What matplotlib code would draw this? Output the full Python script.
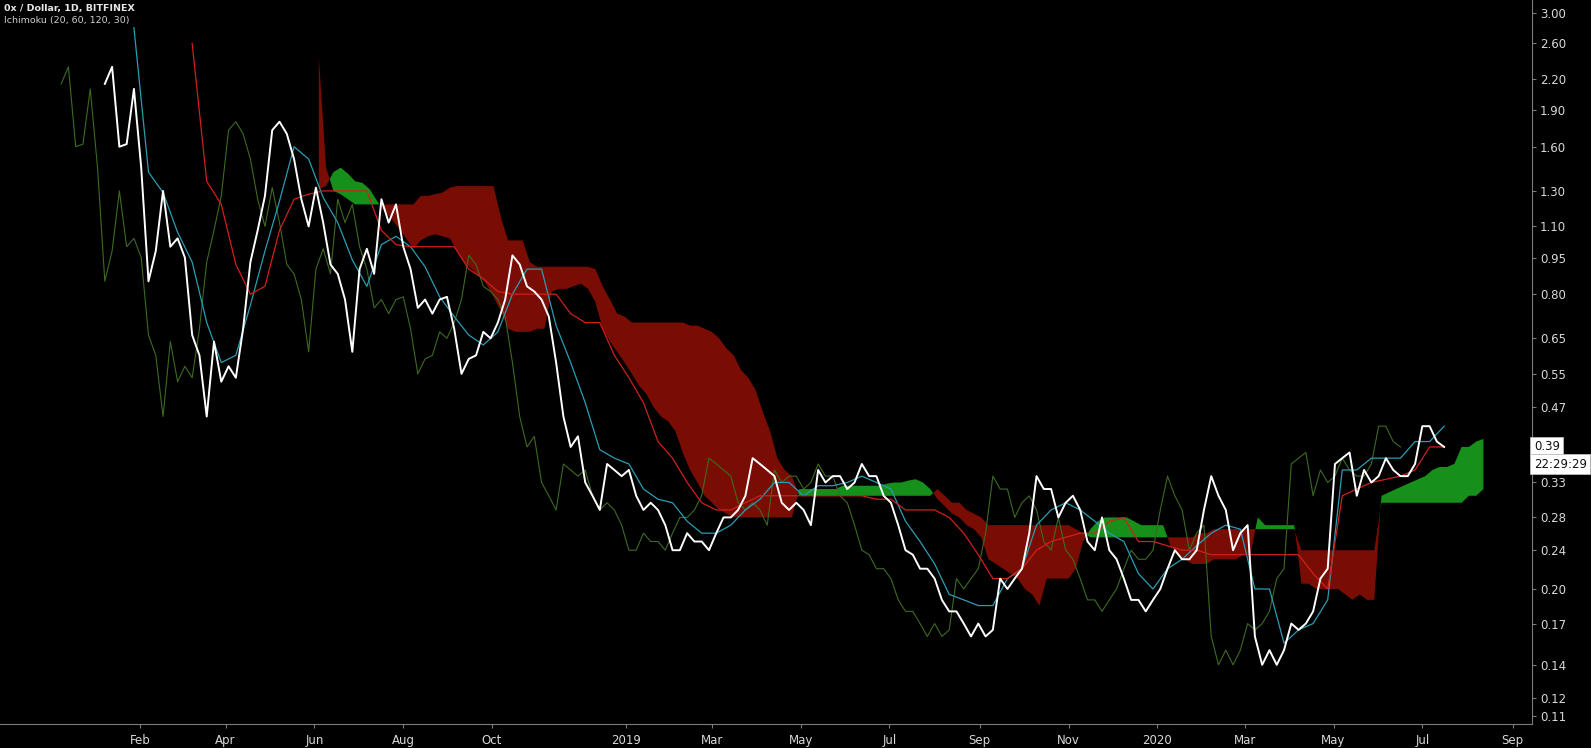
import numpy as np
import pandas as pd
import matplotlib
matplotlib.use("Agg")
import matplotlib.pyplot as plt
import matplotlib.dates as mdates
from matplotlib.ticker import FixedLocator, FixedFormatter, NullLocator
from matplotlib.transforms import blended_transform_factory

# daily close, read every 5 days
close_start = "2018-01-08"
close = [2.15, 2.33, 1.60, 1.62, 2.10, 1.45, 0.85, 0.98, 1.30, 1.00,
         1.04, 0.95, 0.66, 0.60, 0.45, 0.64, 0.53, 0.57, 0.54, 0.68,
         0.93, 1.08, 1.27, 1.73, 1.80, 1.70, 1.51, 1.25, 1.10, 1.32,
         1.12, 0.92, 0.88, 0.78, 0.61, 0.90, 0.99, 0.88, 1.25, 1.12,
         1.22, 1.00, 0.90, 0.75, 0.78, 0.73, 0.78, 0.79, 0.68, 0.55,
         0.59, 0.60, 0.67, 0.65, 0.70, 0.78, 0.96, 0.92, 0.83, 0.81,
         0.78, 0.72, 0.58, 0.45, 0.39, 0.41, 0.33, 0.31, 0.29, 0.36,
         0.35, 0.34, 0.35, 0.31, 0.29, 0.30, 0.29, 0.27, 0.24, 0.24,
         0.26, 0.25, 0.25, 0.24, 0.26, 0.28, 0.28, 0.29, 0.31, 0.37,
         0.36, 0.35, 0.34, 0.30, 0.29, 0.30, 0.29, 0.27, 0.35, 0.33,
         0.34, 0.34, 0.32, 0.33, 0.36, 0.34, 0.34, 0.31, 0.30, 0.27,
         0.24, 0.235, 0.22, 0.22, 0.21, 0.19, 0.18, 0.18, 0.17, 0.16,
         0.17, 0.16, 0.165, 0.21, 0.20, 0.21, 0.22, 0.26, 0.34, 0.32,
         0.32, 0.28, 0.30, 0.31, 0.29, 0.25, 0.24, 0.28, 0.24, 0.23,
         0.21, 0.19, 0.19, 0.18, 0.19, 0.20, 0.22, 0.24, 0.23, 0.23,
         0.24, 0.29, 0.34, 0.31, 0.29, 0.24, 0.26, 0.27, 0.16, 0.14,
         0.15, 0.14, 0.15, 0.17, 0.165, 0.17, 0.18, 0.21, 0.22, 0.36,
         0.37, 0.38, 0.31, 0.35, 0.33, 0.34, 0.37, 0.35, 0.34, 0.34,
         0.36, 0.43, 0.43, 0.40, 0.39]
chikou_shift = 30  # days

# conversion / base lines, read every 10 days
line_start = "2018-01-28"
tenkan = [2.80, 1.42, 1.29, 1.07, 0.93, 0.70, 0.58, 0.60, 0.76, 0.98,
          1.24, 1.60, 1.51, 1.26, 1.12, 0.94, 0.83, 1.01, 1.05, 1.00,
          0.91, 0.79, 0.72, 0.66, 0.63, 0.67, 0.80, 0.90, 0.90, 0.69,
          0.58, 0.48, 0.385, 0.37, 0.36, 0.32, 0.305, 0.30, 0.275, 0.26,
          0.26, 0.27, 0.29, 0.305, 0.33, 0.33, 0.31, 0.325, 0.325, 0.33,
          0.34, 0.33, 0.32, 0.275, 0.25, 0.225, 0.195, 0.19, 0.185, 0.185,
          0.21, 0.22, 0.27, 0.29, 0.30, 0.29, 0.275, 0.26, 0.25, 0.215,
          0.20, 0.22, 0.23, 0.245, 0.26, 0.27, 0.265, 0.20, 0.20, 0.155,
          0.165, 0.17, 0.19, 0.35, 0.35, 0.37, 0.37, 0.37, 0.40, 0.40,
          0.43]
kijun = [np.nan, np.nan, np.nan, np.nan, 2.60, 1.36, 1.22, 0.92, 0.80, 0.83,
         1.08, 1.25, 1.28, 1.30, 1.30, 1.30, 1.30, 1.08, 1.01, 1.00,
         1.00, 1.00, 1.00, 0.90, 0.86, 0.81, 0.80, 0.80, 0.80, 0.80,
         0.73, 0.70, 0.70, 0.60, 0.54, 0.48, 0.40, 0.37, 0.33, 0.30,
         0.29, 0.29, 0.30, 0.31, 0.31, 0.31, 0.31, 0.31, 0.31, 0.31,
         0.31, 0.305, 0.305, 0.29, 0.29, 0.29, 0.28, 0.26, 0.235, 0.21,
         0.21, 0.22, 0.24, 0.25, 0.255, 0.26, 0.26, 0.275, 0.28, 0.25,
         0.25, 0.245, 0.24, 0.24, 0.235, 0.235, 0.235, 0.235, 0.235, 0.235,
         0.235, 0.215, 0.20, 0.31, 0.32, 0.33, 0.335, 0.34, 0.35, 0.39,
         0.39]

# leading spans (already displaced), read every 5 days
cloud_start = "2018-06-04"
lead_a = [1.31, 1.33, 1.42, 1.45, 1.41, 1.36, 1.35, 1.31, 1.24, 1.18,
          1.14, 1.09, 1.04, 0.99, 1.03, 1.05, 1.06, 1.05, 1.04, 0.98,
          0.93, 0.90, 0.87, 0.84, 0.79, 0.74, 0.68, 0.67, 0.67, 0.67,
          0.68, 0.68, 0.81, 0.82, 0.82, 0.83, 0.84, 0.82, 0.77, 0.68,
          0.64, 0.61, 0.58, 0.55, 0.52, 0.50, 0.47, 0.45, 0.44, 0.42,
          0.38, 0.35, 0.33, 0.31, 0.30, 0.29, 0.285, 0.28, 0.28, 0.28,
          0.28, 0.28, 0.28, 0.28, 0.28, 0.28, 0.32, 0.32, 0.32, 0.32,
          0.32, 0.32, 0.325, 0.325, 0.325, 0.325, 0.325, 0.325, 0.328, 0.33,
          0.33, 0.333, 0.335, 0.33, 0.32, 0.305, 0.295, 0.285, 0.28, 0.27,
          0.265, 0.255, 0.23, 0.225, 0.22, 0.215, 0.21, 0.20, 0.195, 0.185,
          0.21, 0.21, 0.21, 0.21, 0.22, 0.25, 0.265, 0.275, 0.28, 0.28,
          0.28, 0.28, 0.275, 0.27, 0.27, 0.27, 0.27, 0.245, 0.235, 0.23,
          0.225, 0.225, 0.225, 0.23, 0.23, 0.23, 0.23, 0.235, 0.235, 0.28,
          0.27, 0.27, 0.27, 0.27, 0.27, 0.205, 0.205, 0.20, 0.20, 0.20,
          0.20, 0.195, 0.19, 0.195, 0.19, 0.19, 0.31, 0.315, 0.32, 0.325,
          0.33, 0.335, 0.34, 0.35, 0.355, 0.355, 0.36, 0.39, 0.39, 0.40,
          0.405]
lead_b = [2.44, 1.45, 1.30, 1.28, 1.25, 1.22, 1.22, 1.22, 1.22, 1.22,
          1.22, 1.22, 1.22, 1.22, 1.27, 1.27, 1.28, 1.29, 1.32, 1.33,
          1.33, 1.33, 1.33, 1.33, 1.33, 1.15, 1.03, 1.03, 1.03, 0.93,
          0.91, 0.91, 0.91, 0.91, 0.91, 0.91, 0.91, 0.91, 0.90, 0.83,
          0.78, 0.73, 0.72, 0.70, 0.70, 0.70, 0.70, 0.70, 0.70, 0.70,
          0.70, 0.69, 0.69, 0.68, 0.67, 0.65, 0.62, 0.60, 0.56, 0.54,
          0.51, 0.46, 0.42, 0.37, 0.35, 0.34, 0.31, 0.31, 0.31, 0.31,
          0.31, 0.31, 0.31, 0.31, 0.31, 0.31, 0.31, 0.31, 0.31, 0.31,
          0.31, 0.31, 0.31, 0.31, 0.31, 0.32, 0.31, 0.30, 0.30, 0.29,
          0.285, 0.28, 0.27, 0.27, 0.27, 0.27, 0.27, 0.27, 0.27, 0.27,
          0.27, 0.27, 0.27, 0.27, 0.265, 0.26, 0.255, 0.255, 0.255, 0.255,
          0.255, 0.255, 0.255, 0.255, 0.255, 0.255, 0.255, 0.255, 0.255, 0.255,
          0.255, 0.26, 0.26, 0.265, 0.265, 0.265, 0.265, 0.265, 0.265, 0.265,
          0.265, 0.265, 0.265, 0.265, 0.265, 0.24, 0.24, 0.24, 0.24, 0.24,
          0.24, 0.24, 0.24, 0.24, 0.24, 0.24, 0.30, 0.30, 0.30, 0.30,
          0.30, 0.30, 0.30, 0.30, 0.30, 0.30, 0.30, 0.30, 0.31, 0.31,
          0.32]

price_ticks = [3.00, 2.60, 2.20, 1.90, 1.60, 1.30, 1.10, 0.95, 0.80, 0.65,
               0.55, 0.47, 0.39, 0.33, 0.28, 0.24, 0.20, 0.17, 0.14, 0.12, 0.11]
month_ticks = ["2018-02-01", "2018-04-01", "2018-06-01", "2018-08-01", "2018-10-01",
               "2019-01-01", "2019-03-01", "2019-05-01", "2019-07-01", "2019-09-01",
               "2019-11-01", "2020-01-01", "2020-03-01", "2020-05-01", "2020-07-01",
               "2020-09-01"]
month_labels = ["Feb", "Apr", "Jun", "Aug", "Oct", "2019", "Mar", "May", "Jul", "Sep",
                "Nov", "2020", "Mar", "May", "Jul", "Sep"]
countdown = "22:29:29"

# colours
bg = "#000000"
c_close = "#ffffff"
c_tenkan = "#2a9db3"
c_kijun = "#d0201c"
c_chikou = "#3d6a22"
c_up = "#16901a"
c_down = "#7a0d03"
axis_col = "#7c7c7c"
text_col = "#d8d8d8"

close_dates = mdates.date2num(pd.date_range(close_start, periods=len(close), freq="5D"))
chikou_dates = mdates.date2num(pd.date_range(close_start, periods=len(close), freq="5D")
                               - pd.Timedelta(days=chikou_shift))
line_dates = mdates.date2num(pd.date_range(line_start, periods=len(tenkan), freq="10D"))
cloud_dates = mdates.date2num(pd.date_range(cloud_start, periods=len(lead_a), freq="5D"))
a = np.array(lead_a)
b = np.array(lead_b)

fig = plt.figure(figsize=(15.91, 7.48), dpi=100, facecolor=bg)
ax = fig.add_axes([0, 24 / 748, 1531.5 / 1591, 724 / 748])
ax.set_facecolor(bg)

# cloud
ax.fill_between(cloud_dates, a, b, where=a >= b, interpolate=True,
                color=c_up, linewidth=0, zorder=1)
ax.fill_between(cloud_dates, a, b, where=a < b, interpolate=True,
                color=c_down, linewidth=0, zorder=1)

ax.plot(chikou_dates, close, color=c_chikou, lw=0.8, zorder=2)
ax.plot(line_dates, tenkan, color=c_tenkan, lw=0.9, zorder=3)
ax.plot(line_dates, kijun, color=c_kijun, lw=0.9, zorder=3)
ax.plot(close_dates, close, color=c_close, lw=1.4, zorder=4)

ax.set_yscale("log")
ax.set_ylim(0.106, 3.19)
ax.set_xlim(mdates.date2num(pd.Timestamp("2017-10-28")),
            mdates.date2num(pd.Timestamp("2020-09-14")))

# the last-price box sits on top of its own tick label
last = close[-1]
ylabels = ["" if abs(v - last) < 1e-9 else "%.2f" % v for v in price_ticks]

ax.yaxis.tick_right()
ax.yaxis.set_major_locator(FixedLocator(price_ticks))
ax.yaxis.set_major_formatter(FixedFormatter(ylabels))
ax.yaxis.set_minor_locator(NullLocator())
ax.xaxis.set_major_locator(FixedLocator(mdates.date2num(pd.to_datetime(month_ticks))))
ax.xaxis.set_major_formatter(FixedFormatter(month_labels))
ax.xaxis.set_minor_locator(NullLocator())

for s in ["top", "left"]:
    ax.spines[s].set_visible(False)
for s in ["right", "bottom"]:
    ax.spines[s].set_color(axis_col)
    ax.spines[s].set_linewidth(0.8)
ax.tick_params(axis="both", colors=axis_col, labelcolor=text_col, labelsize=8.5,
               length=3, width=0.8, direction="out")
ax.tick_params(axis="y", pad=3)
ax.tick_params(axis="x", pad=4)

# header
fig.text(0.0025, 1 - 8 / 748, "0x / Dollar, 1D, BITFINEX", color="#e6e6e6",
         fontsize=6.8, fontweight="bold", va="center", ha="left")
fig.text(0.0025, 1 - 20 / 748, "Ichimoku (20, 60, 120, 30)", color="#cfcfcf",
         fontsize=6.8, va="center", ha="left")

# last price label and countdown
tr = blended_transform_factory(ax.transAxes, ax.transData)
ax.text(1.0015, last, "%.2f" % last, transform=tr, ha="left", va="center",
        fontsize=8.5, color="#111111", clip_on=False,
        bbox=dict(boxstyle="square,pad=0.3", fc="white", ec="#bbbbbb", lw=0.6))
ax.annotate(countdown, xy=(1.0015, last), xycoords=tr, xytext=(0, -12.3),
            textcoords="offset points", ha="left", va="center", fontsize=8.5,
            color="#111111", annotation_clip=False,
            bbox=dict(boxstyle="square,pad=0.28", fc="white", ec="#bbbbbb", lw=0.6))

fig.savefig("out.png", dpi=100, facecolor=bg)
